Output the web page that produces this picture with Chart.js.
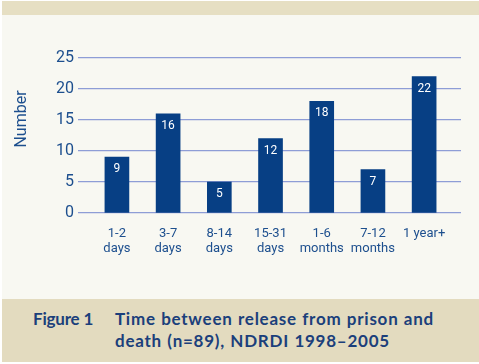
<!DOCTYPE html>
<html lang="en">
<head>
    <meta charset="UTF-8">
    <script src="https://cdn.jsdelivr.net/npm/chart.js"></script>
    <title>Figure 1</title>
    <style>
        body { margin: 0; width: 479px; height: 364px; background: #ffffff; overflow: hidden; position: relative; }
        .topband { position: absolute; left: 2px; top: 1px; width: 477px; height: 14px; background: #e6dfc3; }
        .panel { position: absolute; left: 2px; top: 15px; width: 477px; height: 284px; background: #f8f8f2; }
        .chartbox { position: absolute; left: -2px; top: 0; width: 479px; height: 284px; }
        .caption { position: absolute; left: 2px; top: 299px; width: 477px; height: 63px; background: #e3dbbf;
                   font-family: Lato, "Open Sans", sans-serif; font-weight: bold; font-size: 17px; color: #1b3f7b; }
        .caption .fig { position: absolute; left: 31px; top: 9px; line-height: 22px; letter-spacing: -0.2px; }
        .caption .txt { position: absolute; left: 113px; top: 9px; line-height: 22px; letter-spacing: 0.75px; word-spacing: 0.5px; }
    </style>
</head>
<body>
    <div class="topband"></div>
    <div class="panel">
        <div class="chartbox"><canvas id="myChart"></canvas></div>
    </div>
    <div class="caption">
        <div class="fig">Figure 1</div>
        <div class="txt">Time between release from prison and<br>death (n=89), NDRDI 1998–2005</div>
    </div>

    <script>
        // datos del gráfico
        const categories = [['1-2', 'days'], ['3-7', 'days'], ['8-14', 'days'], ['15-31', 'days'], ['1-6', 'months'], ['7-12', 'months'], ['1 year+']];
        const counts = [9, 16, 5, 12, 18, 7, 22];
        const yTicks = [0, 5, 10, 15, 20, 25];
        const yTitle = 'Number';

        const blue = '#1d4f8e';
        const font = 'Roboto, "DejaVu Sans", sans-serif';

        // etiquetas blancas dentro de las barras + título del eje Y
        const labelsPlugin = {
            id: 'labelsPlugin',
            afterDatasetsDraw(chart) {
                const ctx = chart.ctx;
                const meta = chart.getDatasetMeta(0);
                ctx.save();
                ctx.fillStyle = '#ffffff';
                ctx.font = '12px ' + font;
                ctx.textAlign = 'center';
                ctx.textBaseline = 'middle';
                meta.data.forEach((bar, i) => {
                    ctx.fillText(String(counts[i]), bar.x, bar.y + 12);
                });
                ctx.fillStyle = blue;
                ctx.font = '16px ' + font;
                ctx.translate(22, 104);
                ctx.rotate(-Math.PI / 2);
                ctx.fillText(yTitle, 0, 0);
                ctx.restore();
            }
        };

        const ctx = document.getElementById('myChart').getContext('2d');
        new Chart(ctx, {
            type: 'bar',
            data: {
                datasets: [{
                    data: counts.map((v, i) => ({ x: i, y: v })),
                    backgroundColor: '#073f84',
                    barThickness: 24
                }]
            },
            options: {
                responsive: true,
                maintainAspectRatio: false,
                animation: false,
                layout: { padding: { top: 43, right: 18, left: 0, bottom: 0 } },
                plugins: {
                    legend: { display: false },
                    tooltip: { enabled: false }
                },
                scales: {
                    x: {
                        type: 'linear',
                        offset: false,
                        min: -0.76,
                        max: 6.72,
                        afterBuildTicks: (axis) => { axis.ticks = categories.map((c, i) => ({ value: i })); },
                        afterFit: (axis) => { axis.height = 86; },
                        grid: { display: false, drawTicks: false },
                        border: { display: false },
                        ticks: {
                            autoSkip: false,
                            maxRotation: 0,
                            padding: 13,
                            color: blue,
                            font: { family: font, size: 13, lineHeight: 1.15 },
                            callback: (value) => categories[value]
                        }
                    },
                    y: {
                        min: 0,
                        max: 25,
                        afterBuildTicks: (axis) => { axis.ticks = yTicks.map(v => ({ value: v })); },
                        afterFit: (axis) => { axis.width = 78; },
                        grid: { color: '#8e9dd6', lineWidth: 1.3, drawTicks: false },
                        border: { display: false },
                        ticks: {
                            padding: 4,
                            color: blue,
                            font: { family: font, size: 16 }
                        }
                    }
                }
            },
            plugins: [labelsPlugin]
        });
    </script>
</body>
</html>
